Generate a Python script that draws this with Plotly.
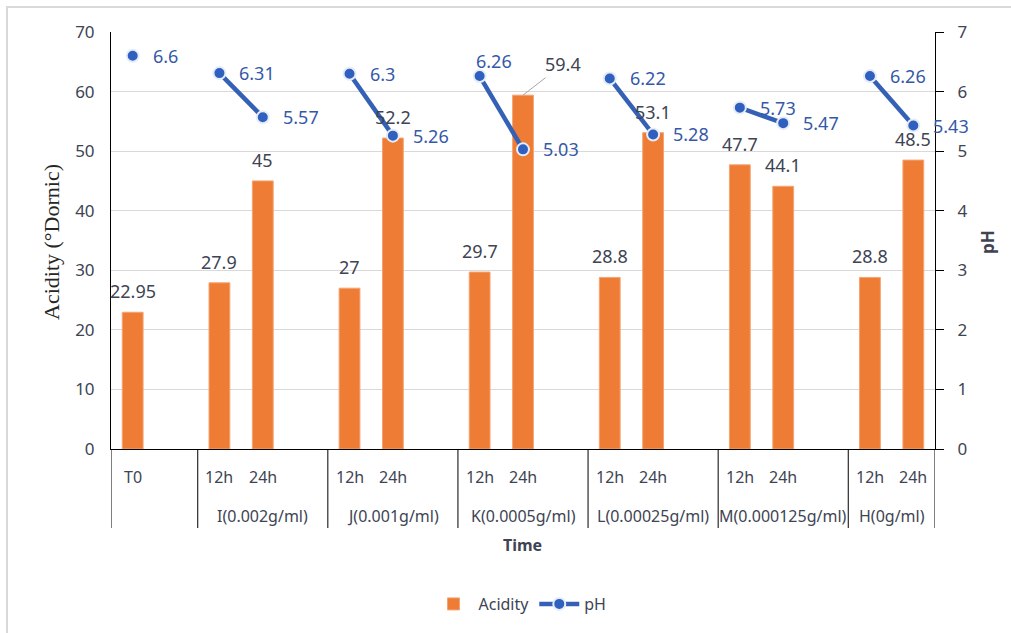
import plotly.graph_objects as go

# ---- data -------------------------------------------------------------
# one slot per category position; empty strings are the spacer slots
slot_labels = ["T0", "",
               "12h", "24h", "",
               "12h", "24h", "",
               "12h", "24h", "",
               "12h", "24h", "",
               "12h", "24h", "",
               "12h", "24h"]
group_labels = ["", "I(0.002g/ml)", "J(0.001g/ml)", "K(0.0005g/ml)",
                "L(0.00025g/ml)", "M(0.000125g/ml)", "H(0g/ml)"]
group_starts = [0, 2, 5, 8, 11, 14, 17]

acidity = [22.95, None,
           27.9, 45, None,
           27, 52.2, None,
           29.7, 59.4, None,
           28.8, 53.1, None,
           47.7, 44.1, None,
           28.8, 48.5]
ph = [6.6, None,
      6.31, 5.57, None,
      6.3, 5.26, None,
      6.26, 5.03, None,
      6.22, 5.28, None,
      5.73, 5.47, None,
      6.26, 5.43]

# ---- styling ----------------------------------------------------------
FONT = "Noto Sans"
TXT = "#3E4453"
ORANGE = "#EE7C34"
BLUE = "#3461B6"
PH_TXT = "#3559A8"

W, H = 1011, 633
ML, MR, MT, MB = 111, 76, 32, 184
PW, PH_ = W - ML - MR, H - MT - MB


def px_x(p):
    return (p - ML) / PW


def px_y(p):
    return (H - MB - p) / PH_


n = len(slot_labels)
xs = list(range(n))

fig = go.Figure()

fig.add_trace(go.Bar(
    x=xs, y=acidity, name="Acidity", width=0.48,
    marker=dict(color=ORANGE, line=dict(color="#F4A473", width=1)),
    yaxis="y",
))

fig.add_trace(go.Scatter(
    x=xs, y=ph, name="pH", mode="lines+markers", yaxis="y2",
    connectgaps=False,
    line=dict(color=BLUE, width=4.5),
    marker=dict(size=12, color="#2F60C0", line=dict(color="#E6ECF7", width=2)),
))

annotations = []

# value labels above bars (59.4 is pulled aside with a leader line)
for i, v in enumerate(acidity):
    if v is None:
        continue
    if v == 59.4:
        annotations.append(dict(
            x=i, y=v, xref="x", yref="y", text=f"{v:g}",
            showarrow=True, arrowhead=0, arrowwidth=1, arrowcolor="#A6A6A6",
            ax=40, ay=-31, font=dict(family=FONT, size=18, color=TXT),
        ))
    else:
        annotations.append(dict(
            x=i, y=v, xref="x", yref="y", text=f"{v:g}", showarrow=False,
            xanchor="center", yanchor="middle", yshift=21,
            font=dict(family=FONT, size=18, color=TXT),
        ))

# pH labels to the right of the points
for i, v in enumerate(ph):
    if v is None:
        continue
    xshift, yshift = 18, 0
    if i == 8:
        xshift, yshift = -6, 15
    annotations.append(dict(
        x=i, y=v, xref="x", yref="y2", text=f"{v:g}", showarrow=False,
        xanchor="left", yanchor="middle", xshift=xshift, yshift=yshift,
        font=dict(family=FONT, size=18, color=PH_TXT),
    ))

# first level of the category axis
for i, lab in enumerate(slot_labels):
    if lab:
        annotations.append(dict(
            x=i, y=px_y(477), xref="x", yref="paper", text=lab,
            showarrow=False, xanchor="center", yanchor="middle",
            font=dict(family=FONT, size=16, color=TXT),
        ))

# second level (groups) and separators
bounds = group_starts + [n]
shapes = []
for g, lab in enumerate(group_labels):
    start, end = bounds[g], bounds[g + 1] - 1
    if lab:
        annotations.append(dict(
            x=(start + end) / 2, y=px_y(516), xref="x", yref="paper", text=lab,
            showarrow=False, xanchor="center", yanchor="middle",
            font=dict(family=FONT, size=16, color=TXT),
        ))
for b in bounds:
    shapes.append(dict(
        type="line", xref="x", yref="paper", x0=b - 0.5, x1=b - 0.5,
        y0=0, y1=px_y(528), line=dict(color="#000000", width=1),
    ))

# axis titles
annotations += [
    dict(x=px_x(522), y=px_y(545), xref="paper", yref="paper", text="<b>Time</b>",
         showarrow=False, xanchor="center", yanchor="middle",
         font=dict(family=FONT, size=16, color=TXT)),
    dict(x=px_x(51), y=px_y(242), xref="paper", yref="paper",
         text="Acidity (°Dornic)", textangle=-90, showarrow=False,
         xanchor="center", yanchor="middle",
         font=dict(family="Liberation Serif", size=22, color="#262626")),
    dict(x=px_x(987), y=px_y(242), xref="paper", yref="paper", text="<b>pH</b>",
         textangle=-90, showarrow=False, xanchor="center", yanchor="middle",
         font=dict(family=FONT, size=17, color=TXT)),
]

# outer chart frame
shapes.append(dict(
    type="rect", xref="paper", yref="paper",
    x0=px_x(7), x1=px_x(1030), y0=px_y(650), y1=px_y(7),
    line=dict(color="#D9D9D9", width=2), layer="below",
))

fig.update_layout(
    width=W, height=H,
    margin=dict(l=ML, r=MR, t=MT, b=MB, autoexpand=False),
    paper_bgcolor="white", plot_bgcolor="white",
    font=dict(family=FONT, size=16, color=TXT),
    showlegend=True,
    legend=dict(orientation="h", x=px_x(520), xanchor="center",
                y=px_y(604), yanchor="middle", itemwidth=40,
                font=dict(family=FONT, size=16, color=TXT)),
    xaxis=dict(range=[-0.5, n - 0.5], showticklabels=False, showgrid=False,
               zeroline=False, showline=True, linecolor="#000000", linewidth=1,
               ticks=""),
    yaxis=dict(range=[0, 70], dtick=10, showgrid=True, gridcolor="#D9D9D9",
               gridwidth=1, zeroline=False, showline=True, linecolor="#000000",
               linewidth=1, ticks="", ticklabelstandoff=12,
               tickfont=dict(family=FONT, size=17, color=TXT)),
    yaxis2=dict(range=[0, 7], dtick=1, overlaying="y", side="right",
                showgrid=False, zeroline=False, showline=True,
                linecolor="#000000", linewidth=1, ticks="outside", ticklen=8,
                tickcolor="#000000", ticklabelstandoff=10,
                tickfont=dict(family=FONT, size=17, color=TXT)),
    annotations=annotations,
    shapes=shapes,
)

fig.write_html("out.html")
